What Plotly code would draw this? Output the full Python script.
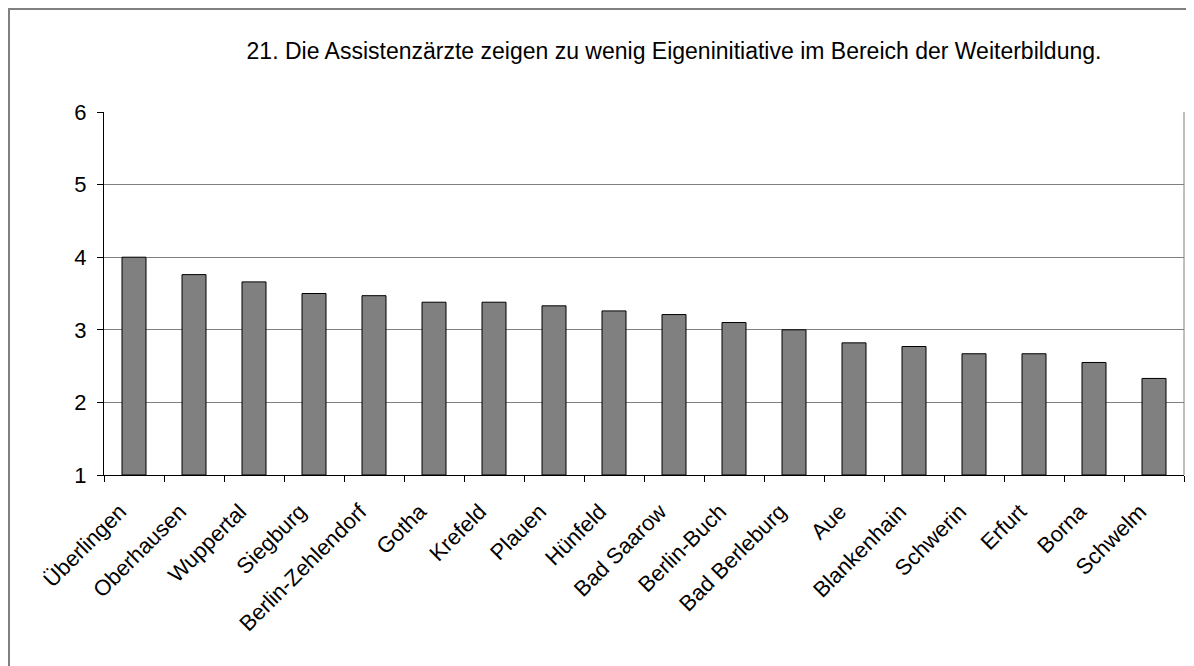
import plotly.graph_objects as go

# data
kliniken = [
    "Überlingen", "Oberhausen", "Wuppertal", "Siegburg", "Berlin-Zehlendorf",
    "Gotha", "Krefeld", "Plauen", "Hünfeld", "Bad Saarow", "Berlin-Buch",
    "Bad Berleburg", "Aue", "Blankenhain", "Schwerin", "Erfurt", "Borna",
    "Schwelm",
]
mittelwerte = [
    4.0, 3.76, 3.66, 3.50, 3.47, 3.38, 3.38, 3.33, 3.26, 3.21, 3.10,
    3.0, 2.82, 2.77, 2.67, 2.67, 2.55, 2.33,
]
titel = "21. Die Assistenzärzte zeigen zu wenig Eigeninitiative im Bereich der Weiterbildung."

font = "Liberation Sans, Arial, sans-serif"

# page body has an 8px margin, so the figure is a bit smaller than the window
W, H = 1186, 658
L, R, T, B = 96, 10, 104, 191
pw = W - L - R
ph = H - T - B

fig = go.Figure()
fig.add_trace(
    go.Bar(
        x=kliniken,
        y=[v - 1 for v in mittelwerte],
        base=1,
        marker=dict(color="#808080", line=dict(color="black", width=1)),
        hoverinfo="skip",
    )
)

fig.update_layout(
    width=W,
    height=H,
    margin=dict(l=L, r=R, t=T, b=B),
    paper_bgcolor="white",
    plot_bgcolor="white",
    bargap=0.6,
    showlegend=False,
    font=dict(family=font, color="black"),
    title=dict(
        text=titel,
        font=dict(family=font, size=23, color="black"),
        x=(666 - L) / pw,
        xref="paper",
        xanchor="center",
        y=1 - 43 / H,
        yref="container",
        yanchor="middle",
    ),
)

fig.update_xaxes(
    showline=True,
    linecolor="black",
    linewidth=1,
    ticks="outside",
    ticklen=6,
    tickcolor="black",
    tickson="boundaries",
    tickangle=-45,
    ticklabelstandoff=14,
    ticklabelshift=-14,
    tickfont=dict(size=22),
    showgrid=False,
)
fig.update_yaxes(
    range=[1, 6],
    dtick=1,
    showline=True,
    linecolor="black",
    linewidth=1,
    ticks="outside",
    ticklen=6,
    tickcolor="black",
    ticklabelstandoff=6,
    showgrid=True,
    gridcolor="#808080",
    gridwidth=1,
    tickfont=dict(size=22),
    zeroline=False,
)

# right frame of the plot area
fig.add_shape(
    type="line", xref="paper", yref="paper", x0=1, x1=1, y0=0, y1=1,
    line=dict(color="#808080", width=1),
)
# outer chart border (only top and left inside the picture)
fig.add_shape(
    type="rect", xref="paper", yref="paper",
    x0=(1 - L) / pw, x1=1.3, y0=-1.0, y1=1 + (T - 1) / ph,
    line=dict(color="#808080", width=2),
)

fig.write_html("out.html")
